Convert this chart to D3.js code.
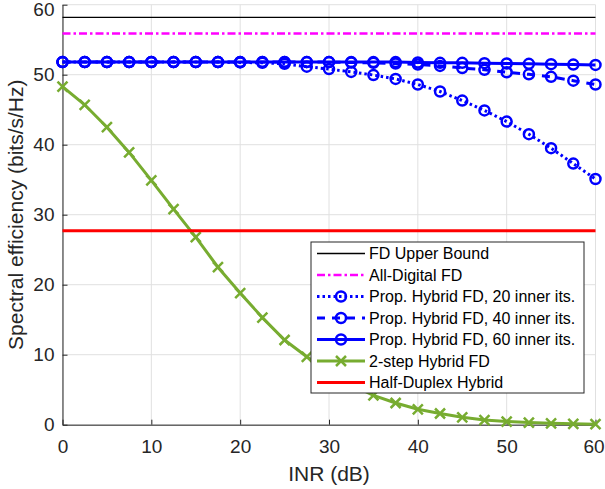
<!DOCTYPE html>
<html>
<head>
<meta charset="utf-8">
<script src="https://cdn.jsdelivr.net/npm/d3@7"></script>
<style>
body { margin: 0; background: #fff; }
svg { display: block; font-family: "Liberation Sans", Arial, Helvetica, sans-serif; }
</style>
</head>
<body>
<svg></svg>
<script>
const width = 605;
const height = 489;
const plotLeft = 62.5, plotRight = 595.5, plotTop = 4.7, plotBottom = 424.7;
const axisColor = '#262626';
const gridColor = '#e0e0e0';

// INR sample points (dB)
const inr = [0, 2.5, 5, 7.5, 10, 12.5, 15, 17.5, 20, 22.5, 25, 27.5, 30,
	32.5, 35, 37.5, 40, 42.5, 45, 47.5, 50, 52.5, 55, 57.5, 60];
const xTicks = [0, 10, 20, 30, 40, 50, 60];
const yTicks = [0, 10, 20, 30, 40, 50, 60];

// series values (bits/s/Hz)
const fdUpper = [58.2, 58.2];
const allDigital = [55.9, 55.9];
const halfDuplex = [27.7, 27.7];
const flatX = [0, 60];
const prop20 = [51.8, 51.8, 51.8, 51.8, 51.8, 51.8, 51.8, 51.8, 51.75, 51.7, 51.55, 51.15, 50.8,
	50.4, 49.95, 49.4, 48.6, 47.6, 46.3, 44.9, 43.3, 41.5, 39.5, 37.3, 35.1];
const prop40 = [51.8, 51.8, 51.8, 51.8, 51.8, 51.8, 51.8, 51.8, 51.8, 51.8, 51.8, 51.8, 51.8,
	51.75, 51.7, 51.6, 51.45, 51.25, 50.95, 50.7, 50.35, 50.05, 49.7, 49.15, 48.6];
const prop60 = [51.8, 51.8, 51.8, 51.8, 51.8, 51.8, 51.8, 51.8, 51.8, 51.8, 51.8, 51.8, 51.8,
	51.8, 51.8, 51.8, 51.75, 51.7, 51.7, 51.65, 51.6, 51.55, 51.5, 51.45, 51.4];
const twoStep = [48.3, 45.7, 42.5, 38.9, 34.9, 30.8, 26.8, 22.5, 18.8, 15.3, 12.1, 9.7, 7.6,
	5.7, 4.2, 3.1, 2.2, 1.6, 1.05, 0.67, 0.45, 0.3, 0.2, 0.12, 0.08];

const series = [
	{name: 'FD Upper Bound', xs: flatX, ys: fdUpper, color: '#000000', width: 1.3, dash: null, marker: null},
	{name: 'All-Digital FD', xs: flatX, ys: allDigital, color: '#ff00ff', width: 2.5, dash: '8,3,2.5,3', marker: null},
	{name: 'Prop. Hybrid FD, 20 inner its.', xs: inr, ys: prop20, color: '#0000ff', width: 3, dash: '2.5,3', marker: 'o'},
	{name: 'Prop. Hybrid FD, 40 inner its.', xs: inr, ys: prop40, color: '#0000ff', width: 3, dash: '8,7', marker: 'o'},
	{name: 'Prop. Hybrid FD, 60 inner its.', xs: inr, ys: prop60, color: '#0000ff', width: 3, dash: null, marker: 'o'},
	{name: '2-step Hybrid FD', xs: inr, ys: twoStep, color: '#77ac30', width: 3, dash: null, marker: 'x'},
	{name: 'Half-Duplex Hybrid', xs: flatX, ys: halfDuplex, color: '#ff0000', width: 3, dash: null, marker: null}
];

const svg = d3.select('svg').attr('width', width).attr('height', height);

const x = d3.scaleLinear().domain([0, 60]).range([plotLeft, plotRight]);
const y = d3.scaleLinear().domain([0, 60]).range([plotBottom, plotTop]);

// grid
const grid = svg.append('g');
grid.selectAll('line.gx').data(xTicks).enter().append('line')
	.attr('x1', d => x(d)).attr('x2', d => x(d))
	.attr('y1', plotTop).attr('y2', plotBottom)
	.style('stroke', gridColor).style('stroke-width', 1);
grid.selectAll('line.gy').data(yTicks).enter().append('line')
	.attr('x1', plotLeft).attr('x2', plotRight)
	.attr('y1', d => y(d)).attr('y2', d => y(d))
	.style('stroke', gridColor).style('stroke-width', 1);

// axes (ticks point inward like matlab)
const xAxis = svg.append('g').attr('transform', `translate(0,${plotBottom})`)
	.call(d3.axisBottom(x).tickValues(xTicks).tickSizeInner(-5).tickSizeOuter(0).tickPadding(15));
const yAxis = svg.append('g').attr('transform', `translate(${plotLeft},0)`)
	.call(d3.axisLeft(y).tickValues(yTicks).tickSizeInner(-5).tickSizeOuter(0).tickPadding(8));
for (const ax of [xAxis, yAxis]) {
	ax.select('.domain').style('stroke', axisColor).style('stroke-width', 1);
	ax.selectAll('.tick line').style('stroke', axisColor);
	ax.selectAll('.tick text').style('fill', axisColor).style('font-size', '19px')
		.style('font-family', '"Liberation Sans", Arial, sans-serif');
}
// edge labels nudged so they stay inside the frame
yAxis.selectAll('.tick text').filter(d => d === 60).attr('dy', '0.55em');
xAxis.selectAll('.tick text').filter(d => d === 60).attr('dx', '-2');

// data
const plot = svg.append('g');
function drawMarker(g, kind, color, cx, cy) {
	if (kind === 'o') {
		g.append('circle').attr('cx', cx).attr('cy', cy).attr('r', 5)
			.style('fill', 'none').style('stroke', color).style('stroke-width', 2.5);
	} else if (kind === 'x') {
		const s = 5;
		g.append('path').attr('d', `M${cx - s},${cy - s}L${cx + s},${cy + s}M${cx - s},${cy + s}L${cx + s},${cy - s}`)
			.style('fill', 'none').style('stroke', color).style('stroke-width', 2.5);
	}
}
for (const s of series) {
	const pts = s.xs.map((v, i) => [v, s.ys[i]]);
	const line = d3.line().x(d => x(d[0])).y(d => y(d[1]));
	plot.append('path').datum(pts).attr('d', line)
		.style('fill', 'none').style('stroke', s.color).style('stroke-width', s.width)
		.style('stroke-dasharray', s.dash);
	if (s.marker) {
		const mg = plot.append('g');
		pts.forEach(p => drawMarker(mg, s.marker, s.color, x(p[0]), y(p[1])));
	}
}

// labels
svg.append('text').attr('x', (plotLeft + plotRight) / 2).attr('y', 481)
	.attr('text-anchor', 'middle').style('font-size', '21px').style('fill', axisColor)
	.text('INR (dB)');
svg.append('text').attr('transform', `translate(23,${(plotTop + plotBottom) / 2}) rotate(-90)`)
	.attr('text-anchor', 'middle').style('font-size', '21px').style('fill', axisColor)
	.text('Spectral efficiency (bits/s/Hz)');

// legend
const lg = svg.append('g');
const lx = 311, ly = 242, lw = 273, lh = 151, row = 21.5;
lg.append('rect').attr('x', lx).attr('y', ly).attr('width', lw).attr('height', lh)
	.style('fill', '#fff').style('stroke', axisColor).style('stroke-width', 1);
series.forEach((s, i) => {
	const cy = ly + 11.5 + i * row;
	lg.append('line').attr('x1', lx + 6).attr('x2', lx + 54).attr('y1', cy).attr('y2', cy)
		.style('stroke', s.color).style('stroke-width', s.width).style('stroke-dasharray', s.dash);
	if (s.marker) drawMarker(lg, s.marker, s.color, lx + 30, cy);
	lg.append('text').attr('x', lx + 58).attr('y', cy).attr('dy', '0.35em')
		.style('font-size', '16px').style('fill', '#000').text(s.name);
});
</script>
</body>
</html>
